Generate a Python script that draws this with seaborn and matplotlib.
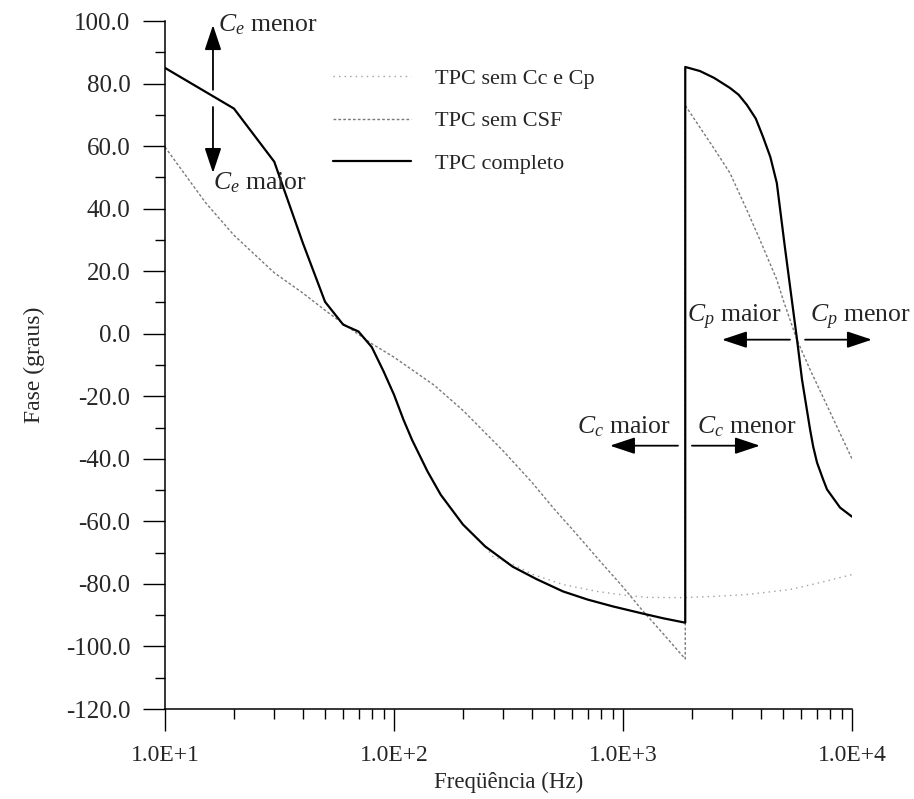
import matplotlib
matplotlib.use("Agg")
import matplotlib.pyplot as plt
import matplotlib.ticker as mticker
import seaborn as sns
import pandas as pd
import numpy as np

# ---------------- data ----------------
freq_completo = [10, 20, 30, 40, 50, 60, 70, 80, 90, 100, 110, 120, 140, 160, 200, 250,
                 330, 420, 547, 700, 904, 1222, 1500, 1870, 1870, 2168, 2500, 2931, 3200,
                 3473, 3800, 4085, 4400, 4695, 5090, 5754, 6050, 6563, 6770, 7035, 7480,
                 7780, 8870, 10000]
fase_completo = [85, 72, 55, 29, 10.2, 2.9, 0.7, -4.3, -12, -19.5, -27.5, -34, -44,
                 -51.5, -61, -68, -74.5, -78.5, -82.4, -85, -87.2, -89.5, -91, -92.4,
                 85.3, 84.0, 81.8, 78.6, 76.4, 73.2, 68.8, 63.0, 56.5, 48.2, 27.8, -1.9,
                 -14.7, -30.7, -36.1, -41.2, -46.6, -49.8, -55.6, -58.5]

freq_sem_csf = [10, 15, 20, 30, 40, 50, 60, 70, 80, 100, 150, 200, 300, 400, 500, 600,
                800, 1000, 1200, 1500, 1870, 1870, 2473, 2931, 3473, 3963, 4695, 5000,
                5754, 6563, 8017, 10000]
fase_sem_csf = [59.7, 42, 31.5, 19.5, 13, 7.5, 3.2, -0.2, -3.2, -7.5, -16.5, -24.5,
                -37.5, -47.5, -56, -62.5, -73, -81, -88, -96, -104, 73, 59.7, 51.4,
                39.6, 30, 17.3, 10.9, -2, -11.5, -25, -40]

freq_sem_cc_cp = [10, 20, 30, 40, 50, 60, 70, 80, 90, 100, 110, 120, 140, 160, 200, 250,
                  270, 331, 405, 547, 770, 1040, 1273, 1774, 2500, 3475, 5360, 7250, 10000]
fase_sem_cc_cp = [85, 72, 55, 29, 10.2, 2.9, 0.7, -4.3, -12, -19.5, -27.5, -34, -44,
                  -51.5, -61, -68, -71.2, -73.8, -77, -80.2, -82.4, -83.7, -84.3, -84.4,
                  -84, -83.4, -81.8, -79.6, -77]

series_labels = ["TPC sem Cc e Cp", "TPC sem CSF", "TPC completo"]
x_tick_values = [10, 100, 1000, 10000]
x_tick_labels = ["1.0E+1", "1.0E+2", "1.0E+3", "1.0E+4"]
y_tick_values = [100, 80, 60, 40, 20, 0, -20, -40, -60, -80, -100, -120]

# ---------------- style ----------------
sns.set_style("ticks")
plt.rcParams["font.family"] = ["Liberation Serif", "DejaVu Serif"]
plt.rcParams["mathtext.fontset"] = "custom"
plt.rcParams["mathtext.rm"] = "Liberation Serif"
plt.rcParams["mathtext.it"] = "Liberation Serif:italic"

fig = plt.figure(figsize=(9.14, 7.99), dpi=100)
ax = fig.add_axes([165 / 914, 1 - 709 / 799, (852 - 165) / 914, (709 - 21) / 799])

df1 = pd.DataFrame({"f": freq_sem_cc_cp, "fase": fase_sem_cc_cp})
df2 = pd.DataFrame({"f": freq_sem_csf, "fase": fase_sem_csf})
df3 = pd.DataFrame({"f": freq_completo, "fase": fase_completo})

sns.lineplot(data=df1, x="f", y="fase", estimator=None, sort=False, ax=ax,
             color="#a0a0a0", linewidth=1.0, label=series_labels[0])
sns.lineplot(data=df2, x="f", y="fase", estimator=None, sort=False, ax=ax,
             color="#7a7a7a", linewidth=1.0, label=series_labels[1])
sns.lineplot(data=df3, x="f", y="fase", estimator=None, sort=False, ax=ax,
             color="black", linewidth=1.6, label=series_labels[2])

lines = ax.get_lines()
lines[0].set_linestyle((0, (1, 3)))
lines[1].set_linestyle((0, (2, 1.5)))
lines[2].set_linestyle("-")

ax.set_xscale("log")
ax.set_xlim(10, 10000)
ax.set_ylim(-120, 100)

ax.xaxis.set_major_locator(mticker.FixedLocator(x_tick_values))
ax.xaxis.set_major_formatter(mticker.FixedFormatter(x_tick_labels))
ax.xaxis.set_minor_locator(mticker.LogLocator(base=10, subs=np.arange(2, 10), numticks=20))
ax.xaxis.set_minor_formatter(mticker.NullFormatter())
ax.yaxis.set_major_locator(mticker.FixedLocator(y_tick_values))
ax.yaxis.set_major_formatter(mticker.FormatStrFormatter("%.1f"))
ax.yaxis.set_minor_locator(mticker.MultipleLocator(10))

ax.tick_params(axis="both", which="major", direction="out", length=16, width=1.0,
               color="black")
ax.tick_params(axis="y", which="major", labelsize=18, pad=9)
ax.tick_params(axis="x", which="major", labelsize=17, pad=10)
ax.tick_params(axis="both", which="minor", direction="out", length=7, width=1.0,
               color="black")

for s in ["top", "right"]:
    ax.spines[s].set_visible(False)
for s in ["left", "bottom"]:
    ax.spines[s].set_color("black")
    ax.spines[s].set_linewidth(1.1)

ax.set_xlabel("Freqüência (Hz)", fontsize=16.5, labelpad=4)
ax.set_ylabel("Fase (graus)", fontsize=17, labelpad=15)

# legend
leg = ax.legend(loc="upper left", bbox_to_anchor=(333 / 914, 1 - 68 / 799),
                bbox_transform=fig.transFigure, frameon=False, fontsize=16,
                handlelength=3.5, handletextpad=1.1, labelspacing=1.0,
                borderpad=0, borderaxespad=0)

# annotations
arrow = dict(arrowstyle="-|>,head_length=0.9,head_width=0.3", color="black",
             lw=1.3, shrinkA=0, shrinkB=0, mutation_scale=17)
txt_kw = dict(fontsize=18.5, ha="left", va="center", annotation_clip=False)

ax.annotate("", xy=(16.2, 98.7), xytext=(16.2, 78), arrowprops=arrow, annotation_clip=False)
ax.annotate("", xy=(16.2, 51.4), xytext=(16.2, 72.5), arrowprops=arrow, annotation_clip=False)
ax.annotate("$C_e$ menor", xy=(17, 98.7), **txt_kw)
ax.annotate("$C_e$ maior", xy=(16.2, 48.2), **txt_kw)

ax.annotate("", xy=(2704, -1.9), xytext=(5357, -1.9), arrowprops=arrow, annotation_clip=False)
ax.annotate("", xy=(12220, -1.9), xytext=(6237, -1.9), arrowprops=arrow, annotation_clip=False)
ax.annotate("$C_p$ maior", xy=(1900, 5.1), **txt_kw)
ax.annotate("$C_p$ menor", xy=(6563, 5.1), **txt_kw)

ax.annotate("", xy=(877, -35.8), xytext=(1738, -35.8), arrowprops=arrow, annotation_clip=False)
ax.annotate("", xy=(3963, -35.8), xytext=(2000, -35.8), arrowprops=arrow, annotation_clip=False)
ax.annotate("$C_c$ maior", xy=(630, -29.7), **txt_kw)
ax.annotate("$C_c$ menor", xy=(2104, -29.7), **txt_kw)

fig.savefig("out.png", dpi=100, facecolor="white")
